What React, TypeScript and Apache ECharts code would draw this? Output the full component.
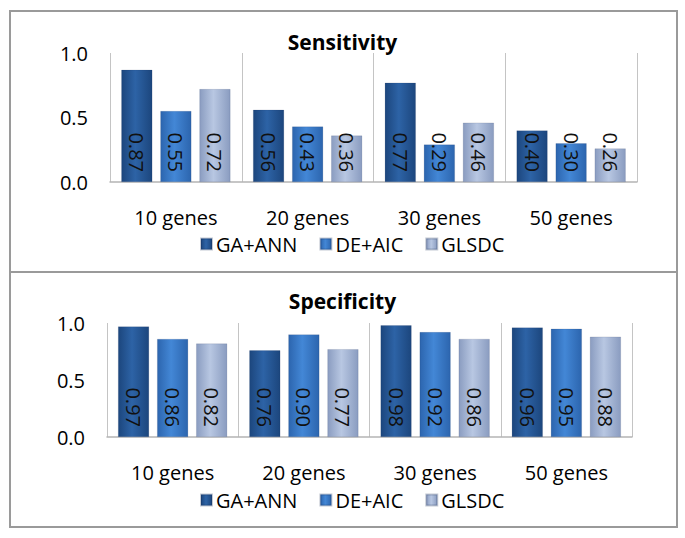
import React, { useEffect, useRef } from "react";
import * as echarts from "echarts";

const categories = ["10 genes", "20 genes", "30 genes", "50 genes"];
const seriesNames = ["GA+ANN", "DE+AIC", "GLSDC"];
const sensGA = [0.87, 0.56, 0.77, 0.4];
const sensDE = [0.55, 0.43, 0.29, 0.3];
const sensGL = [0.72, 0.36, 0.46, 0.26];
const specGA = [0.97, 0.76, 0.98, 0.96];
const specDE = [0.86, 0.9, 0.92, 0.95];
const specGL = [0.82, 0.77, 0.86, 0.88];
const yTicks = [0, 0.5, 1.0];

const FONT = "'Open Sans', sans-serif";

const grad = (edge: string, mid: string) =>
  new echarts.graphic.LinearGradient(0, 0, 1, 0, [
    { offset: 0, color: edge },
    { offset: 0.45, color: mid },
    { offset: 1, color: edge },
  ]);

const colors = [
  () => grad("#1c467d", "#2d63a6"),
  () => grad("#2c65ae", "#4387d6"),
  () => grad("#8a9cc0", "#b8c7e2"),
];

export default function App() {
  const ref = useRef<HTMLDivElement>(null);
  useEffect(() => {
    document.body.style.margin = "0";
    const chart = echarts.init(ref.current!, undefined, { renderer: "svg" });
    const panels = [
      { title: "Sensitivity", data: [sensGA, sensDE, sensGL] },
      { title: "Specificity", data: [specGA, specDE, specGL] },
    ];
    const grids = [
      { left: 110, top: 53, width: 527, height: 129 },
      { left: 107, top: 323, width: 525, height: 114 },
    ];
    const titleTops = [26, 285];
    const legendTops = [229, 485];

    const series: any[] = [];
    panels.forEach((p, pi) => {
      p.data.forEach((vals, si) => {
        series.push({
          type: "bar",
          name: seriesNames[si],
          xAxisIndex: pi,
          yAxisIndex: pi,
          data: vals,
          barWidth: 31,
          barGap: "26%",
          itemStyle: { color: colors[si](), borderColor: "rgba(20,40,80,0.25)", borderWidth: 0.5 },
          label: {
            show: true,
            position: "insideBottom",
            distance: 10,
            rotate: -90,
            align: "right",
            verticalAlign: "middle",
            fontFamily: FONT,
            fontSize: 20,
            color: "#111",
            formatter: (d: any) => Number(d.value).toFixed(2),
          },
        });
      });
    });

    chart.setOption({
      animation: false,
      backgroundColor: "#fff",
      title: panels.map((p, i) => ({
        text: p.title,
        left: "center",
        top: titleTops[i],
        textStyle: { fontFamily: FONT, fontSize: 21, fontWeight: "bold", color: "#000" },
      })),
      legend: legendTops.map((t) => ({
        data: seriesNames,
        left: 195,
        top: t,
        itemWidth: 11,
        itemHeight: 11,
        itemGap: 22,
        icon: "rect",
        textStyle: { fontFamily: FONT, fontSize: 20, color: "#000", padding: [0, 0, 0, -1] },
      })),
      grid: grids,
      xAxis: grids.map((_, i) => ({
        type: "category",
        gridIndex: i,
        data: categories,
        axisLine: { show: true, lineStyle: { color: "#b4b4b4", width: 1.5 } },
        axisTick: { show: false },
        splitLine: { show: true, lineStyle: { color: "#c4c4c4", width: 1 } },
        axisLabel: { fontFamily: FONT, fontSize: 20, color: "#000", margin: 25 },
      })),
      yAxis: grids.map((_, i) => ({
        type: "value",
        gridIndex: i,
        min: 0,
        max: 1,
        interval: 0.5,
        axisLine: { show: false },
        axisTick: { show: false },
        splitLine: { show: false },
        axisLabel: {
          fontFamily: FONT,
          fontSize: 20,
          color: "#000",
          margin: 22,
          formatter: (v: number) => (yTicks.includes(v) ? v.toFixed(1) : ""),
        },
      })),
      graphic: [
        {
          type: "rect",
          shape: { x: 10, y: 11, width: 667, height: 516 },
          style: { fill: "none", stroke: "#9a9a9a", lineWidth: 2 },
          silent: true,
        },
        {
          type: "line",
          shape: { x1: 10, y1: 272, x2: 677, y2: 272 },
          style: { stroke: "#9a9a9a", lineWidth: 2 },
          silent: true,
        },
      ],
      series,
    });
    return () => chart.dispose();
  }, []);
  return <div ref={ref} style={{ width: 685, height: 538 }} />;
}
